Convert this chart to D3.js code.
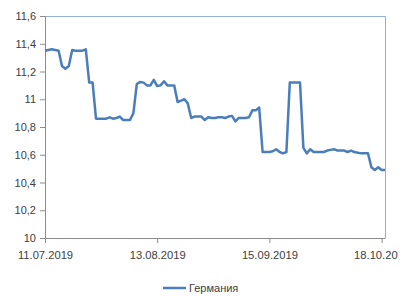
<!DOCTYPE html>
<html>
<head>
<meta charset="utf-8">
<script src="https://cdn.jsdelivr.net/npm/d3@7"></script>
<style>
  body { margin: 0; background: #fff; }
  svg { display: block; }
  text { font-family: "Liberation Sans", Arial, sans-serif; fill: #404040; }
</style>
</head>
<body>
<svg id="chart"></svg>
<script>
const seriesName = "Германия";
const startDate = "2019-07-11";
// one value per calendar day from startDate
const values = [
    11.35, 11.355, 11.36, 11.355, 11.35, 11.24, 11.22, 11.24, 11.355, 11.35,
    11.35, 11.35, 11.36, 11.12, 11.12, 10.86, 10.86, 10.86, 10.86, 10.87,
    10.86, 10.865, 10.875, 10.85, 10.85, 10.85, 10.9, 11.11, 11.125, 11.12,
    11.1, 11.1, 11.14, 11.095, 11.1, 11.13, 11.1, 11.1, 11.1, 10.98,
    10.99, 11.0, 10.97, 10.865, 10.875, 10.875, 10.875, 10.85, 10.87, 10.865,
    10.865, 10.87, 10.87, 10.865, 10.875, 10.88, 10.84, 10.865, 10.865, 10.865,
    10.87, 10.92, 10.92, 10.94, 10.62, 10.62, 10.62, 10.625, 10.64, 10.62,
    10.61, 10.62, 11.12, 11.12, 11.12, 11.12, 10.65, 10.61, 10.64, 10.62,
    10.62, 10.62, 10.62, 10.63, 10.635, 10.64, 10.63, 10.63, 10.63, 10.62,
    10.63, 10.62, 10.615, 10.61, 10.61, 10.61, 10.51, 10.49, 10.51, 10.49,
    10.49
];
const xTickDates = ["2019-07-11", "2019-08-13", "2019-09-15", "2019-10-18"];
// the last label is cut short in the original chart
const xTickLabels = ["11.07.2019", "13.08.2019", "15.09.2019", "18.10.20"];
const yTicks = [10, 10.2, 10.4, 10.6, 10.8, 11, 11.2, 11.4, 11.6];

const margin = { top: 16, right: 19, bottom: 58, left: 45 };
const width = 404 - margin.left - margin.right;
const height = 296 - margin.top - margin.bottom;

const parse = d3.timeParse("%Y-%m-%d");
const start = parse(startDate);
const data = values.map((v, i) => ({ date: d3.timeDay.offset(start, i), value: v }));

const svg = d3.select("#chart")
    .attr("width", 404)
    .attr("height", 296);

const g = svg.append("g")
    .attr("transform", `translate(${margin.left},${margin.top})`);

const x = d3.scaleTime()
    .domain(d3.extent(data, d => d.date))
    .range([0, width]);

const y = d3.scaleLinear()
    .domain([10, 11.6])
    .range([height, 0]);

const locale = d3.formatLocale({ decimal: ",", thousands: " ", grouping: [3], currency: ["", ""] });
const yFormat = locale.format(".1~f");

// plot border (top + right)
g.append("path")
    .attr("d", `M0,0.5H${width + 0.5}V${height}`)
    .attr("fill", "none")
    .attr("stroke", "#95b0d8")
    .attr("stroke-width", 1);

// y axis
const yAxis = g.append("g")
    .call(d3.axisLeft(y).tickValues(yTicks).tickFormat(yFormat).tickSize(5).tickPadding(4));
yAxis.select(".domain").attr("stroke", "#8c8c8c");
yAxis.selectAll(".tick line").attr("stroke", "#8c8c8c");
yAxis.selectAll("text")
    .style("font-size", "11px")
    .attr("fill", "#404040");

// x axis
const xAxis = g.append("g")
    .attr("transform", `translate(0,${height})`)
    .call(d3.axisBottom(x)
        .tickValues(xTickDates.map(parse))
        .tickFormat((d, i) => xTickLabels[i])
        .tickSize(5)
        .tickSizeOuter(0)
        .tickPadding(8));
xAxis.select(".domain").attr("stroke", "#8c8c8c");
xAxis.selectAll(".tick line").attr("stroke", "#8c8c8c");
xAxis.selectAll("text")
    .style("font-size", "11.2px")
    .attr("fill", "#404040");
// truncated last label starts where the full label would have started
xAxis.selectAll(".tick text")
    .filter((d, i) => i === xTickLabels.length - 1)
    .attr("text-anchor", "start")
    .attr("x", -28);

// line
const line = d3.line()
    .x(d => x(d.date))
    .y(d => y(d.value));

g.append("path")
    .datum(data)
    .attr("d", line)
    .attr("fill", "none")
    .attr("stroke", "#4a7ebb")
    .attr("stroke-width", 2.5)
    .attr("stroke-linejoin", "round");

// legend
const legend = svg.append("g")
    .attr("transform", "translate(163,288)");
legend.append("line")
    .attr("x1", 0).attr("x2", 23)
    .attr("stroke", "#4a7ebb")
    .attr("stroke-width", 2.5);
legend.append("text")
    .attr("x", 26)
    .attr("y", 4)
    .style("font-size", "11px")
    .text(seriesName);
</script>
</body>
</html>
